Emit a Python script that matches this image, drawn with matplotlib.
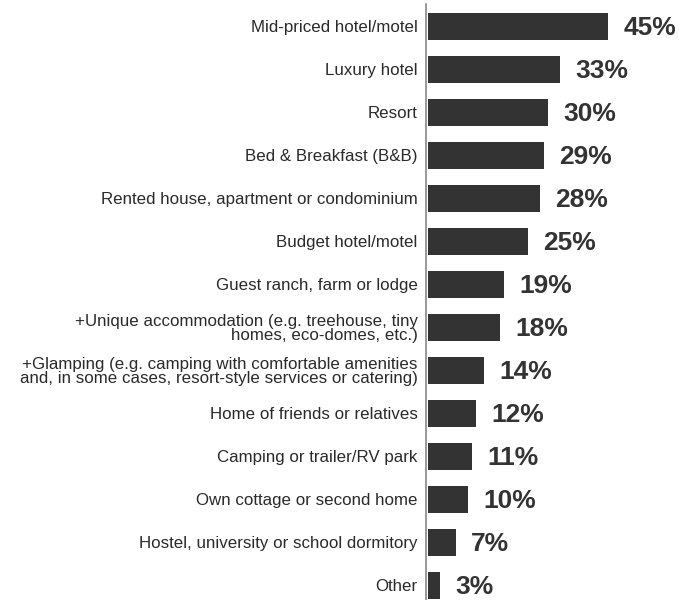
import matplotlib.pyplot as plt

# accommodation types and share of respondents (%)
categories = [
    "Mid-priced hotel/motel",
    "Luxury hotel",
    "Resort",
    "Bed & Breakfast (B&B)",
    "Rented house, apartment or condominium",
    "Budget hotel/motel",
    "Guest ranch, farm or lodge",
    "+Unique accommodation (e.g. treehouse, tiny\nhomes, eco-domes, etc.)",
    "+Glamping (e.g. camping with comfortable amenities\nand, in some cases, resort-style services or catering)",
    "Home of friends or relatives",
    "Camping or trailer/RV park",
    "Own cottage or second home",
    "Hostel, university or school dormitory",
    "Other",
]
values = [45, 33, 30, 29, 28, 25, 19, 18, 14, 12, 11, 10, 7, 3]

plt.rcParams['font.family'] = ['Liberation Sans', 'DejaVu Sans']

W, H = 679, 600
fig = plt.figure(figsize=(W / 100, H / 100), dpi=100)
ax = fig.add_axes([426 / W, 0, (W - 426) / W, (H - 4) / H])

ypos = list(range(len(categories)))
ax.barh(ypos, values, height=0.63, color='#333333', left=0.4)

for y, v in zip(ypos, values):
    ax.text(v + 4.3, y + 0.04, f"{v}%", va='center', ha='left',
            fontsize=19, fontweight='bold', color='#333333')

ax.set_yticks(ypos)
ax.set_yticklabels(categories, fontsize=12.2, color='#2a2a2a', linespacing=0.9)
ax.tick_params(axis='y', length=0, pad=6)
ax.set_xlim(0, (W - 426) / 4)
ax.set_ylim(13.34, -0.523)
ax.set_xticks([])

for s in ['top', 'right', 'bottom']:
    ax.spines[s].set_visible(False)
ax.spines['left'].set_color('#888888')
ax.spines['left'].set_linewidth(1.2)

fig.savefig('out.png', dpi=100)
